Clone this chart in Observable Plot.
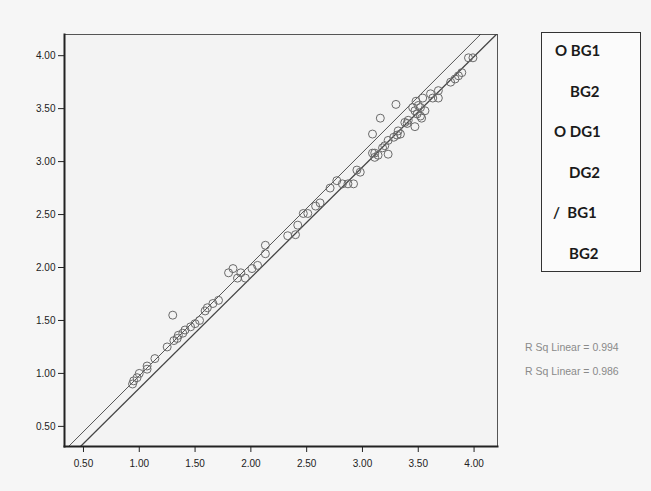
<!DOCTYPE html>
<html>
<head>
<meta charset="utf-8">
<script src="https://cdn.jsdelivr.net/npm/d3@7"></script>
<script src="https://cdn.jsdelivr.net/npm/@observablehq/plot@0.6"></script>
<style>
  html, body { margin: 0; padding: 0; background: #f6f6f6; }
  #wrap { position: relative; width: 651px; height: 491px; overflow: hidden; }
  #wrap svg text { font-family: Arial, "Liberation Sans", sans-serif; }
  #legend { position: absolute; left: 541px; top: 32px; width: 98px; height: 238px;
            border: 1.5px solid #333; background: #fbfbfb; }
  .lg { position: absolute; font-family: Lato, "Open Sans", sans-serif; font-weight: 700;
        font-size: 15px; color: #1a1a1a; line-height: 1; white-space: pre; }
  .rsq { position: absolute; font-family: Arial, "Liberation Sans", sans-serif; font-size: 10.5px;
         color: #8a8a8a; white-space: pre; }
</style>
</head>
<body>
<div id="wrap"></div>
<script>
// ---- data ----
const xValues = [0.94,0.95,0.98,1.00,1.07,1.07,1.14,1.25,1.30,1.31,1.34,1.35,1.39,1.41,1.46,1.50,1.54,1.59,1.61,1.66,1.71,
  1.80,1.84,1.88,1.91,1.95,2.01,2.06,2.13,2.13,2.33,2.40,2.42,2.47,2.51,2.58,2.62,2.71,2.77,2.82,2.87,2.92,2.95,2.98,
  3.09,3.16,3.30,3.09,3.11,3.14,3.11,3.18,3.23,3.20,3.23,3.28,3.31,3.34,3.32,3.38,3.40,3.41,3.47,3.45,3.47,3.49,3.50,
  3.52,3.53,3.54,3.52,3.48,3.56,3.61,3.63,3.68,3.68,3.79,3.83,3.86,3.89,3.95,3.99];
const yValues = [0.90,0.93,0.96,1.00,1.07,1.04,1.14,1.25,1.55,1.31,1.33,1.36,1.38,1.41,1.44,1.47,1.50,1.59,1.62,1.66,1.69,
  1.95,1.99,1.90,1.95,1.90,1.99,2.02,2.13,2.21,2.30,2.31,2.40,2.51,2.51,2.58,2.61,2.75,2.82,2.79,2.79,2.79,2.92,2.90,
  3.26,3.41,3.54,3.08,3.08,3.06,3.04,3.13,3.07,3.15,3.20,3.23,3.25,3.26,3.29,3.37,3.36,3.39,3.33,3.51,3.48,3.45,3.53,
  3.51,3.41,3.60,3.43,3.57,3.48,3.64,3.60,3.67,3.60,3.75,3.78,3.81,3.84,3.98,3.98];
const xTicks = [0.50, 1.00, 1.50, 2.00, 2.50, 3.00, 3.50, 4.00];
const yTicks = [0.50, 1.00, 1.50, 2.00, 2.50, 3.00, 3.50, 4.00];
const fitIntercepts = [-0.076, -0.184];
const fitSlopes = [1.054, 1.044];
const fitLabels = ["R Sq Linear = 0.994", "R Sq Linear = 0.986"];
const legendLabels = ["O BG1", "BG2", "O DG1", "DG2", "/  BG1", "BG2"];

// ---- build ----
const xDomain = [0.33, 4.21];
const yDomain = [0.31, 4.20];
const points = xValues.map((x, i) => ({x, y: yValues[i]}));
const fits = fitIntercepts.map((a, i) => ({
  x1: xDomain[0], y1: a + fitSlopes[i] * xDomain[0],
  x2: xDomain[1], y2: a + fitSlopes[i] * xDomain[1], k: i
}));

const chart = Plot.plot({
  width: 651, height: 491,
  marginLeft: 64, marginTop: 34, marginRight: 154, marginBottom: 45,
  style: { background: "transparent", fontFamily: "Arial, 'Liberation Sans', sans-serif", fontSize: "10px", color: "#222" },
  x: { domain: xDomain },
  y: { domain: yDomain },
  marks: [
    Plot.frame({ fill: "#f3f3f3", stroke: "#555", strokeWidth: 1 }),
    Plot.link(fits, { x1: "x1", y1: "y1", x2: "x2", y2: "y2", stroke: "#444",
      strokeWidth: d => d.k === 0 ? 0.9 : 1.3, clip: true }),
    Plot.dot(points, { x: "x", y: "y", r: 4, stroke: "#6a6a6a", strokeWidth: 1, fill: "none" }),
    Plot.frame({ anchor: "left", stroke: "#222", strokeWidth: 2 }),
    Plot.frame({ anchor: "bottom", stroke: "#222", strokeWidth: 2 }),
    Plot.axisX({ ticks: xTicks, tickFormat: d3.format(".2f"), tickSize: 6, tickPadding: 7, label: null, stroke: "#222" }),
    Plot.axisY({ ticks: yTicks, tickFormat: d3.format(".2f"), tickSize: 6, tickPadding: 3, label: null, stroke: "#222" })
  ]
});

const wrap = document.getElementById("wrap");
wrap.appendChild(chart);

const legend = document.createElement("div");
legend.id = "legend";
wrap.appendChild(legend);
const lgLeft = [13, 28, 12, 27, 11, 27];
legendLabels.forEach((t, i) => {
  const s = document.createElement("div");
  s.className = "lg";
  s.textContent = t;
  s.style.left = lgLeft[i] + "px";
  s.style.top = (10 + i * 40.6) + "px";
  legend.appendChild(s);
});

fitLabels.forEach((t, i) => {
  const s = document.createElement("div");
  s.className = "rsq";
  s.textContent = t;
  s.style.left = "525px";
  s.style.top = (341 + i * 24) + "px";
  wrap.appendChild(s);
});
</script>
</body>
</html>
